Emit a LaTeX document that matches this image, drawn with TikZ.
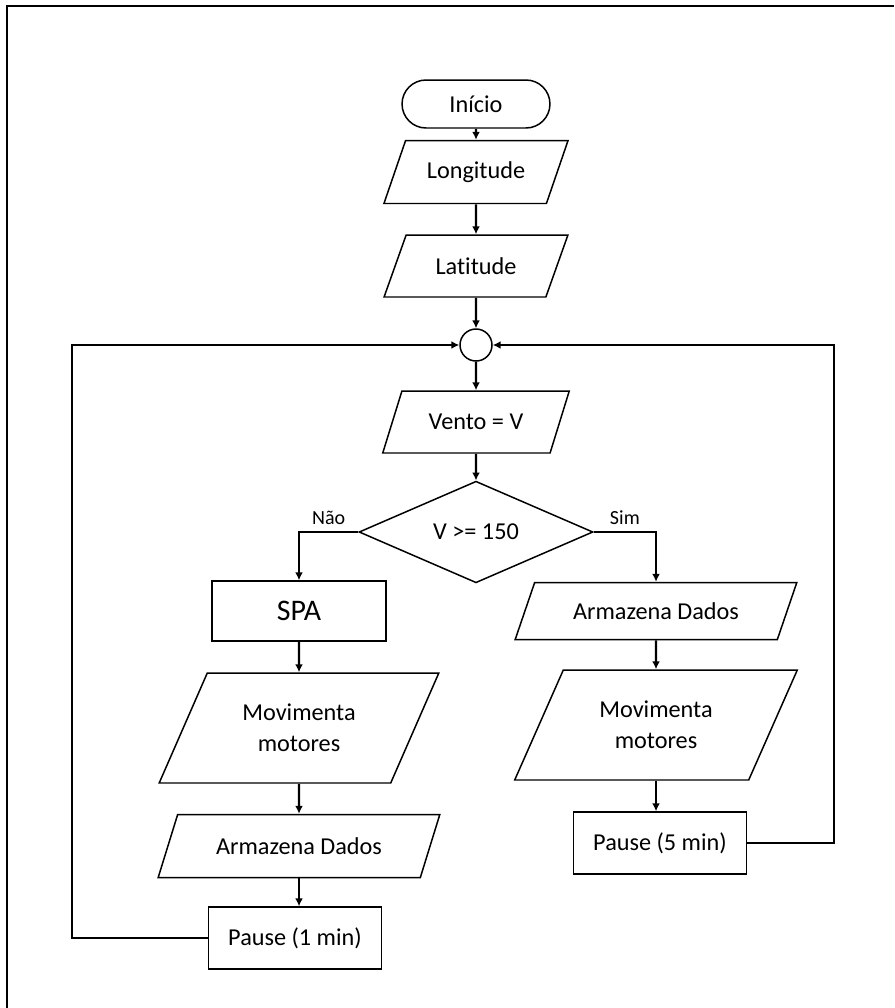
\documentclass[tikz,border=0pt]{standalone}
\usepackage{fontspec}
\setmainfont{Carlito}[Ligatures={NoCommon}]
\usetikzlibrary{arrows.meta,shapes.geometric,shapes.misc}

\begin{document}
\begin{tikzpicture}[x=0.02cm,y=-0.02cm,>={Latex[length=4.5pt,width=4.5pt]},
 font=\fontsize{13.8}{17.5}\selectfont,
 shp/.style={draw,line width=.85pt,align=center,inner sep=2pt},
 term/.style={shp,rounded rectangle,minimum width=3.1cm,minimum height=.96cm},
 io/.style={shp,trapezium,trapezium left angle=60,trapezium right angle=120,trapezium stretches=true},
 proc/.style={shp,rectangle,minimum width=3.46cm,minimum height=1.24cm},
 test/.style={shp,diamond,minimum width=4.68cm,minimum height=1.88cm,inner sep=0pt},
 lbl/.style={font=\fontsize{11.4}{13}\selectfont},
 link/.style={line width=1.3pt}]
\useasboundingbox (0,0) rectangle (894,1008);
\draw[line width=1.7pt] (7,1008) -- (7,6) -- (894,6);
\node[term] (start) at (476,104) {Início};
\node[io,minimum width=3.7cm,minimum height=1.26cm] (lon) at (476,172) {Longitude};
\node[io,minimum width=3.7cm,minimum height=1.24cm] (lat) at (476,266) {Latitude};
\node[shp,circle,minimum size=.64cm,inner sep=0pt] (join) at (476,345) {};
\node[io,minimum width=3.74cm,minimum height=1.24cm] (vento) at (476,422) {Vento = V};
\node[test] (cmp) at (476,532) {V >= 150};
% ramo da esquerda
\node[proc,minimum width=3.48cm,minimum height=1.2cm,font=\fontsize{17}{20}\selectfont] (spa) at (299,611) {SPA};
\node[io,minimum width=5.6cm,minimum height=2.2cm] (movL) at (299,728) {Movimenta\\motores};
\node[io,minimum width=5.64cm,minimum height=1.26cm] (armL) at (299,846) {Armazena Dados};
\node[proc] (pauseL) at (295,938) {Pause (1 min)};
% ramo da direita
\node[io,minimum width=5.64cm,minimum height=1.14cm] (armR) at (656,611) {Armazena Dados};
\node[io,minimum width=5.66cm,minimum height=2.2cm] (movR) at (656,725) {Movimenta\\motores};
\node[proc] (pauseR) at (660,843) {Pause (5 min)};
\coordinate (backL) at (72,345);
\coordinate (backR) at (834,345);
\draw[link,->] (start) -- (lon);
\draw[link,->] (lon) -- (lat);
\draw[link,->] (lat) -- (join);
\draw[link,->] (join) -- (vento);
\draw[link,->] (vento) -- (cmp);
\draw[link,->] (cmp.west) -| node[pos=.25,above,lbl] {Não} (spa.north);
\draw[link,->] (cmp.east) -| node[pos=.25,above,lbl] {Sim} (armR.north);
\draw[link,->] (spa) -- (movL);
\draw[link,->] (movL) -- (armL);
\draw[link,->] (armL.south) -- (armL.south |- pauseL.north);
\draw[link,->] (armR) -- (movR);
\draw[link,->] (movR.south) -- (movR.south |- pauseR.north);
\draw[link,->] (pauseL.west) -| (backL) -- (join.west);
\draw[link,->] (pauseR.east) -| (backR) -- (join.east);
\end{tikzpicture}
\end{document}
